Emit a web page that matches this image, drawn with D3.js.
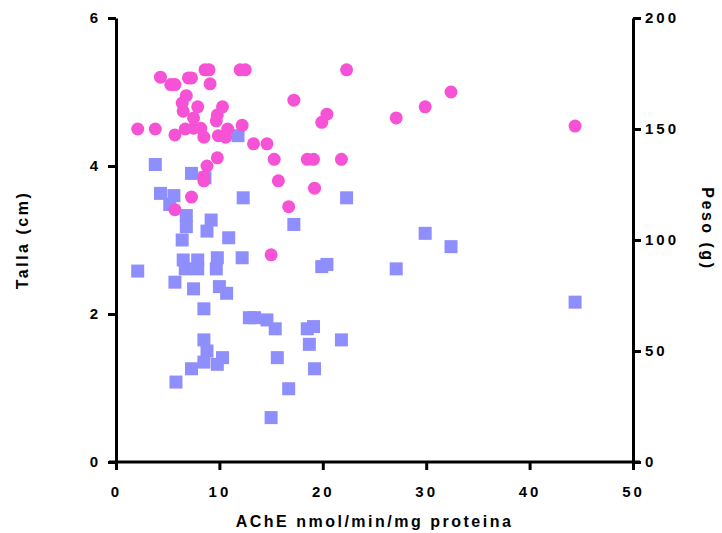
<!DOCTYPE html>
<html>
<head>
<meta charset="utf-8">
<script src="https://cdn.jsdelivr.net/npm/d3@7"></script>
<style>
  body { margin: 0; background: #fff; }
  text { font-family: "Liberation Sans", Arial, sans-serif; font-weight: bold; }
</style>
</head>
<body>
<div id="chart"></div>
<script>
// AChE activity vs Talla (circles, left axis)
const tallaX = [2.1, 3.8, 4.3, 5.3, 5.7, 5.7, 5.7, 6.4, 6.5, 6.8, 7.0, 7.3, 6.7, 7.3, 7.5, 7.5, 7.9, 8.5, 8.6, 9.0,
  9.1, 8.5, 8.5, 8.8, 9.7, 9.8, 9.8, 9.9, 10.3, 10.6, 10.8, 8.2, 12.0, 12.5, 12.2, 13.3, 14.6, 15.0, 15.3, 15.7,
  16.7, 17.2, 18.5, 19.1, 19.2, 19.9, 20.4, 21.8, 22.3, 27.1, 29.9, 32.4, 44.4];
const tallaY = [4.5, 4.5, 5.2, 5.1, 5.1, 4.42, 3.41, 4.85, 4.74, 4.95, 5.19, 5.19, 4.5, 3.58, 4.65, 4.51, 4.8, 4.39, 5.3, 5.3,
  5.11, 3.8, 3.85, 4.0, 4.61, 4.69, 4.11, 4.41, 4.8, 4.39, 4.5, 4.51, 5.3, 5.3, 4.55, 4.3, 4.3, 2.8, 4.09, 3.8,
  3.45, 4.89, 4.09, 4.09, 3.7, 4.59, 4.7, 4.09, 5.3, 4.65, 4.8, 5.0, 4.54];

// AChE activity vs Peso (squares, right axis)
const pesoX = [3.8, 7.3, 8.6, 4.3, 5.6, 5.2, 6.8, 6.8, 9.2, 8.8, 6.4, 10.9, 12.3, 11.8, 12.2, 6.5, 7.9, 9.8, 6.7, 7.9,
  9.7, 2.1, 5.7, 7.5, 10.0, 10.7, 8.5, 12.9, 8.5, 8.8, 10.3, 8.5, 9.8, 7.3, 5.8, 17.2, 22.3, 19.9, 20.4, 13.4,
  14.6, 15.4, 18.5, 19.1, 21.8, 18.7, 15.6, 19.2, 16.7, 15.0, 29.9, 32.4, 27.1, 44.4];
const pesoY = [134, 130, 128, 121, 120, 116, 111, 106, 109, 104, 100, 101, 119, 147, 92, 91, 91, 92, 87, 87,
  87, 86, 81, 78, 79, 76, 69, 65, 55, 50, 47, 45, 44, 42, 36, 107, 119, 88, 89, 65,
  64, 60, 60, 61, 55, 53, 47, 42, 33, 20, 103, 97, 87, 72];

const xTicks = [0, 10, 20, 30, 40, 50];
const leftTicks = [0, 2, 4, 6];
const rightTicks = [0, 50, 100, 150, 200];

const width = 722, height = 533;
const margin = { top: 18, right: 90, bottom: 71, left: 116 };

const svg = d3.select("#chart")
    .append("svg")
    .attr("width", width)
    .attr("height", height);

const x = d3.scaleLinear().domain([0, 50]).range([margin.left, width - margin.right + 1]);
const yL = d3.scaleLinear().domain([0, 6]).range([height - margin.bottom, margin.top]);
const yR = d3.scaleLinear().domain([0, 200]).range([height - margin.bottom, margin.top]);

function styleAxis(g) {
    g.select(".domain").attr("stroke", "#000").attr("stroke-width", 3);
    g.selectAll(".tick line").attr("stroke", "#000").attr("stroke-width", 3);
    g.selectAll(".tick text")
        .attr("fill", "#000")
        .style("font-size", "15px")
        .style("letter-spacing", "3px");
}

// x axis
svg.append("g")
    .attr("transform", `translate(0,${yL(0)})`)
    .call(d3.axisBottom(x).tickValues(xTicks).tickFormat(d3.format("d"))
        .tickSize(8).tickPadding(16).tickSizeOuter(0))
    .call(styleAxis)
    .call(g => g.select(".domain").attr("d", `M${x(0) - 7},0H${x(50) + 7}`));

// left axis
svg.append("g")
    .attr("transform", `translate(${x(0)},0)`)
    .call(d3.axisLeft(yL).tickValues(leftTicks).tickFormat(d3.format("d"))
        .tickSize(8).tickPadding(7).tickSizeOuter(0))
    .call(styleAxis);

// right axis
svg.append("g")
    .attr("transform", `translate(${x(50)},0)`)
    .call(d3.axisRight(yR).tickValues(rightTicks).tickFormat(d3.format("d"))
        .tickSize(8).tickPadding(4).tickSizeOuter(0))
    .call(styleAxis);

// squares (Peso)
const sq = 13;
svg.append("g")
    .selectAll("rect")
    .data(pesoX.map((d, i) => [d, pesoY[i]]))
    .join("rect")
    .attr("x", d => x(d[0]) - sq / 2)
    .attr("y", d => yR(d[1]) - sq / 2)
    .attr("width", sq)
    .attr("height", sq)
    .attr("fill", "#8E8EFC");

// circles (Talla)
svg.append("g")
    .selectAll("circle")
    .data(tallaX.map((d, i) => [d, tallaY[i]]))
    .join("circle")
    .attr("cx", d => x(d[0]))
    .attr("cy", d => yL(d[1]))
    .attr("r", 6.5)
    .attr("fill", "#F652D6");

// axis titles
svg.append("text")
    .attr("x", (x(0) + x(50)) / 2)
    .attr("y", 527)
    .attr("text-anchor", "middle")
    .style("font-size", "16px")
    .style("letter-spacing", "2.5px")
    .text("AChE nmol/min/mg proteina");

svg.append("text")
    .attr("transform", `translate(28,${yL(3)}) rotate(-90)`)
    .attr("text-anchor", "middle")
    .style("font-size", "16px")
    .style("letter-spacing", "2.5px")
    .text("Talla (cm)");

svg.append("text")
    .attr("transform", `translate(702,${yL(3.15)}) rotate(90)`)
    .attr("text-anchor", "middle")
    .style("font-size", "16px")
    .style("letter-spacing", "2.5px")
    .text("Peso (g)");
</script>
</body>
</html>
